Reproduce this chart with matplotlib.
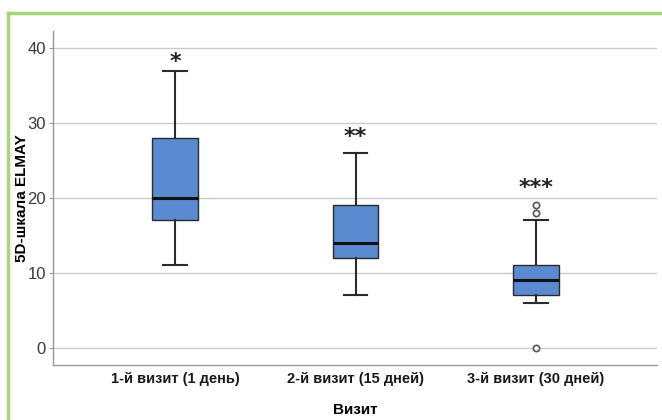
import matplotlib
matplotlib.use("Agg")
import matplotlib.pyplot as plt
from matplotlib.lines import Line2D
from matplotlib import font_manager

categories = ["1-й визит (1 день)", "2-й визит (15 дней)", "3-й визит (30 дней)"]
whislo = [11, 7, 6]
q1 = [17, 12, 7]
med = [20, 14, 9]
q3 = [28, 19, 11]
whishi = [37, 26, 17]
fliers = [[], [], [18, 19, 0]]
stars = ["*", "**", "***"]
star_y = [38.2, 28.2, 21.3]
yticks = [0, 10, 20, 30, 40]

names = {f.name for f in font_manager.fontManager.ttflist}
narrow = "Liberation Sans Narrow" if "Liberation Sans Narrow" in names else "Liberation Sans"

fig = plt.figure(figsize=(6.62, 4.2), dpi=100)
ax = fig.add_axes([53/662, 55/420, 604/662, 334/420])

stats = []
for i in range(3):
    stats.append(dict(med=med[i], q1=q1[i], q3=q3[i], whislo=whislo[i],
                      whishi=whishi[i], fliers=fliers[i], label=categories[i]))

ax.bxp(stats, positions=[0, 1, 2], widths=0.25, capwidths=0.13, patch_artist=True,
       boxprops=dict(facecolor="#5a8bd0", edgecolor="#2b2b2b", linewidth=1.0),
       medianprops=dict(color="#111111", linewidth=2.2),
       whiskerprops=dict(color="#2b2b2b", linewidth=1.5),
       capprops=dict(color="#2b2b2b", linewidth=1.5),
       flierprops=dict(marker="o", markersize=4.5, markerfacecolor="white",
                       markeredgecolor="#555555", markeredgewidth=1.2),
       zorder=3)

for i, s in enumerate(stars):
    ax.text(i, star_y[i], s, ha="center", va="center", fontsize=16,
            fontweight="bold", color="#222222", family="DejaVu Sans")

ax.set_xlim(-0.676, 2.67)
ax.set_ylim(-2.3, 42.3)
ax.set_yticks(yticks)
ax.set_yticklabels([str(v) for v in yticks], family=narrow, fontsize=12, color="#3a3a3a")
ax.set_xticks([0, 1, 2])
ax.set_xticklabels(categories, family=narrow, fontsize=10.5, fontweight="bold", color="#1a1a1a")
ax.tick_params(axis="x", length=0, pad=5)
ax.tick_params(axis="y", length=3, color="#999999", pad=2)
ax.grid(axis="y", color="#cccccc", linewidth=1.0, zorder=0)
ax.set_axisbelow(True)
for sp in ["top", "right"]:
    ax.spines[sp].set_visible(False)
for sp in ["left", "bottom"]:
    ax.spines[sp].set_color("#999999")
    ax.spines[sp].set_linewidth(1.0)

ax.set_xlabel("Визит", family=narrow, fontsize=11, fontweight="bold")
ax.xaxis.set_label_coords((355 - 53) / 604, -(410 - 365) / 334)
ax.xaxis.label.set_va("center")
ax.set_ylabel("5D-шкала ELMAY", family=narrow, fontsize=11, fontweight="bold")
ax.yaxis.set_label_coords((22 - 53) / 604, (365 - 198) / 334)
ax.yaxis.label.set_va("center")

# green frame (top and left)
fig.add_artist(Line2D([8/662, 8/662], [0, 1 - 13/420], transform=fig.transFigure,
                      color="#a8d47a", linewidth=2.5))
fig.add_artist(Line2D([8/662, 1], [1 - 13/420, 1 - 13/420], transform=fig.transFigure,
                      color="#a8d47a", linewidth=2.5))

fig.savefig("out.png", dpi=100)
